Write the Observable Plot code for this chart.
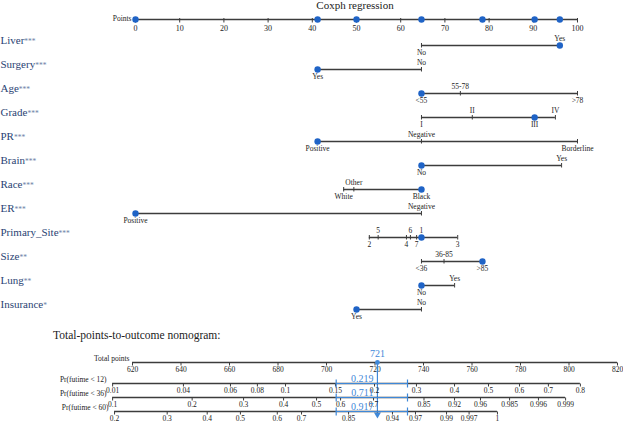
<!DOCTYPE html>
<html><head><meta charset="utf-8">
<script src="https://cdn.jsdelivr.net/npm/d3@7"></script>
<script src="https://cdn.jsdelivr.net/npm/@observablehq/plot@0.6"></script>
<style>
body{margin:0;background:#fff;}
#chart{position:relative;width:623px;height:421px;overflow:hidden;font-family:"Liberation Serif",serif;background:#fff;}
#chart svg{position:absolute;left:0;top:0;}
#title{position:absolute;left:0;width:710px;top:-1px;text-align:center;font-size:11px;line-height:12px;color:#222;}
#sub{position:absolute;left:53px;top:328px;font-size:11.5px;line-height:14px;color:#222;white-space:nowrap;}
</style></head><body>
<div id="chart"><div id="title">Coxph regression</div><div id="sub">Total-points-to-outcome nomogram:</div></div>
<script>
// ---------- data ----------
const pointTicks = [0,10,20,30,40,50,60,70,80,90,100];
const rows = ["Liver","Surgery","Age","Grade","PR","Brain","Race","ER","Primary_Site","Size","Lung","Insurance"];
const stars = ["***","***","***","***","***","***","***","***","***","**","**","*"];
// [row, level, points]
const levels = [
  ["Liver","No",64.7],["Liver","Yes",96],
  ["Surgery","Yes",41.2],["Surgery","No",64.7],
  ["Age","<55",64.7],["Age","55-78",73.5],["Age",">78",100],
  ["Grade","I",64.7],["Grade","II",76.2],["Grade","III",90.3],["Grade","IV",95],
  ["PR","Positive",41.2],["PR","Negative",64.7],["PR","Borderline",100],
  ["Brain","No",64.7],["Brain","Yes",96.4],
  ["Race","White",47.1],["Race","Other",49.4],["Race","Black",64.7],
  ["ER","Positive",0],["ER","Negative",64.7],
  ["Primary_Site","2",52.9],["Primary_Site","5",54.9],["Primary_Site","4",61.3],["Primary_Site","6",62.2],["Primary_Site","7",63.6],["Primary_Site","1",64.7],["Primary_Site","3",72.9],
  ["Size","<36",64.7],["Size","36-85",69.8],["Size",">85",78.5],
  ["Lung","No",64.7],["Lung","Yes",72.2],
  ["Insurance","Yes",50],["Insurance","No",64.7]
];
const labelsAbove = [["Liver","Yes"],["Surgery","No"],["Age","55-78"],["Grade","II"],["Grade","IV"],["PR","Negative"],["Brain","Yes"],["Race","Other"],["ER","Negative"],["Primary_Site","5"],["Primary_Site","6"],["Primary_Site","1"],["Size","36-85"],["Lung","Yes"],["Insurance","No"]];
const selected = [["Liver","Yes"],["Surgery","Yes"],["Age","<55"],["Grade","III"],["PR","Positive"],["Brain","No"],["Race","Black"],["ER","Positive"],["Primary_Site","1"],["Size",">85"],["Lung","No"],["Insurance","Yes"]];

const totalTicks = [620,640,660,680,700,720,740,760,780,800,820];
const probNames = ["Pr(futime < 12)","Pr(futime < 36)","Pr(futime < 60)"];
const pr12Labels = ["0.01","0.04","0.06","0.08","0.1","0.15","0.2","0.3","0.4","0.5","0.6","0.7","0.8"];
const pr12At     = [611.8,641,660.4,671.5,683.1,703.7,719.8,737.1,752.8,766.8,779.6,791.5,804.7];
const pr36Labels = ["0.1","0.2","0.3","0.4","0.5","0.6","0.7","0.85","0.92","0.96","0.985","0.996","0.999"];
const pr36At     = [611.8,644.6,665.8,682.3,695.9,705.8,719.4,740.2,752.8,763.5,775.5,787.4,798.6];
const pr60Labels = ["0.2","0.3","0.4","0.5","0.6","0.7","0.85","0.94","0.97","0.99","0.997","1"];
const pr60At     = [612.6,634.3,650.8,664.5,679.7,689.7,709.1,727.2,736.7,749.5,758.8,770.5];
const totalScore = 721;
const probEstimates = ["0.219","0.711","0.917"];
const ciLow = 704, ciHigh = 733.4;

// ---------- derived tables ----------
const key = (r,l) => r + "|" + l;
const aboveSet = new Set(labelsAbove.map(([r,l]) => key(r,l)));
const levelData = levels.map(([row,label,points]) => ({row,label,points,above: aboveSet.has(key(row,label))}));
const rowExt = d3.rollups(levelData, v => d3.extent(v, d => d.points), d => d.row).map(([row,[x1,x2]]) => ({row,x1,x2}));
const selData = selected.map(([r,l]) => levelData.find(d => d.row === r && d.label === l));
const selPoints = Array.from(new Set(selData.map(d => d.points)));
const probTicks = [[pr12Labels,pr12At],[pr36Labels,pr36At],[pr60Labels,pr60At]]
  .flatMap(([labs,at],k) => labs.map((label,i) => ({axis: probNames[k], label, at: at[i]})));
const probExt = probNames.map((name,k) => {
  const at = [pr12At,pr36At,pr60At][k];
  return {axis: name, x1: d3.min(at), x2: d3.max(at), est: probEstimates[k]};
});

// ---------- styles ----------
const W = 623, H = 421;
const FONT = "'Liberation Serif', 'Times New Roman', serif";
const LINE = "#3c3c3c", TXT = "#222", BLUE = "#1f63c6", OVER = "#3f88d8", LAB = "#2a4373";
const base = (o) => Plot.plot({width: W, height: H, margin: 0,
  style: {background: "none", fontFamily: FONT, overflow: "visible"}, ...o});
// vertical tick glyph: extends `up` px above and `down` px below the anchor (r = 1)
const tickSym = (up, down) => ({draw(ctx, size) { const r = Math.sqrt(size / Math.PI); ctx.moveTo(0, -up * r); ctx.lineTo(0, down * r); }});
const ticks = (data, o, up, down, stroke = LINE, sw = 1) =>
  Plot.dot(data, {...o, r: 1, symbol: tickSym(up, down), fill: "none", stroke, strokeWidth: sw});

// ---------- top points axis ----------
const plotA = base({
  x: {domain: [0,100], range: [135,577], axis: null},
  y: {type: "point", domain: ["Points"], range: [19,19], padding: 0, axis: null},
  marks: [
    Plot.ruleY(["Points"], {y: d => d, x1: d3.min(pointTicks), x2: d3.max(pointTicks), stroke: LINE, strokeWidth: 1.4}),
    ticks(pointTicks, {x: d => d, y: () => "Points"}, 1.5, 3),
    Plot.text(pointTicks, {x: d => d, y: () => "Points", text: d => String(d), dy: 8.5, fontSize: 8, fill: TXT}),
    Plot.text(["Points"], {x: () => d3.min(pointTicks), y: d => d, text: d => d, textAnchor: "end", dx: -4, dy: -1, fontSize: 7.5, fill: TXT}),
    Plot.dot(selPoints, {x: d => d, y: () => "Points", r: 3.2, fill: BLUE})
  ]
});

// ---------- predictor rows ----------
const plotB = base({
  x: {domain: [0,100], range: [135,577], axis: null},
  y: {type: "point", domain: rows, range: [41,313.3], padding: 0, axis: null},
  marks: [
    Plot.ruleY(rowExt, {y: "row", x1: "x1", x2: "x2", stroke: LINE, strokeWidth: 1.4}),
    ticks(levelData, {x: "points", y: "row"}, 2.5, 2),
    Plot.text(levelData.filter(d => d.above), {x: "points", y: "row", text: "label", dy: -6.5, fontSize: 7.5, fill: TXT}),
    Plot.text(levelData.filter(d => !d.above), {x: "points", y: "row", text: "label", dy: 7, fontSize: 7.5, fill: TXT}),
    Plot.dot(selData, {x: "points", y: "row", r: 3.2, fill: BLUE}),
    Plot.text(rows, {y: d => d, text: (d,i) => d + stars[i], frameAnchor: "left", textAnchor: "start", dy: -5.5, fontSize: 11, fill: LAB})
  ]
});

// ---------- total points axis + reading line ----------
const plotC = base({
  x: {domain: [620,820], range: [132,617], axis: null},
  y: {type: "point", domain: ["Total points", probNames[2]], range: [362,411.3], padding: 0, axis: null},
  marks: [
    Plot.ruleY(["Total points"], {y: d => d, x1: d3.min(totalTicks), x2: d3.max(totalTicks), stroke: LINE, strokeWidth: 1.4}),
    ticks(totalTicks, {x: d => d, y: () => "Total points"}, 0, 3),
    Plot.text(totalTicks, {x: d => d, y: () => "Total points", text: d => String(d), dy: 7.5, fontSize: 7.5, fill: TXT}),
    Plot.text(["Total points"], {x: () => d3.min(totalTicks), y: d => d, text: d => d, textAnchor: "end", dx: -3, dy: -4, fontSize: 7.5, fill: TXT}),
    Plot.ruleX([totalScore], {x: d => d, y1: () => "Total points", y2: () => probNames[2], insetBottom: -2, stroke: OVER, strokeWidth: 1.2}),
    Plot.dot([totalScore], {x: d => d, y: () => probNames[2], symbol: "triangle", rotate: 180, r: 2.6, dy: 3, fill: OVER}),
    Plot.dot([totalScore], {x: d => d, y: () => "Total points", r: 2.4, fill: OVER}),
    Plot.text([totalScore], {x: d => d, y: () => "Total points", text: d => String(d), dy: -9, fontSize: 10, fill: OVER})
  ]
});

// ---------- probability axes ----------
const plotD = base({
  x: {domain: [620,820], range: [132,617], axis: null},
  y: {type: "point", domain: probNames, range: [382,411.3], padding: 0, axis: null},
  marks: [
    Plot.ruleY(probExt, {y: "axis", x1: "x1", x2: "x2", stroke: LINE, strokeWidth: 1.4}),
    ticks(probTicks, {x: "at", y: "axis"}, 0, 3),
    Plot.text(probTicks, {x: "at", y: "axis", text: "label", dy: 7, fontSize: 7.5, fill: TXT}),
    Plot.text(probExt, {x: "x1", y: "axis", text: "axis", textAnchor: "end", dx: -6, dy: -4, fontSize: 7.5, fill: TXT}),
    Plot.ruleY(probExt, {y: "axis", x1: () => ciLow, x2: () => ciHigh, stroke: OVER, strokeWidth: 1.2}),
    ticks(probExt.flatMap(d => [{axis: d.axis, at: ciLow}, {axis: d.axis, at: ciHigh}]), {x: "at", y: "axis"}, 4, 4, OVER, 1.2),
    Plot.text(probExt, {x: () => totalScore, y: "axis", text: "est", textAnchor: "end", dx: -4, dy: -5, fontSize: 10, fill: OVER})
  ]
});

const chart = document.getElementById("chart");
[plotA, plotB, plotC, plotD].forEach(p => chart.appendChild(p));

// render significance stars smaller
const NS = "http://www.w3.org/2000/svg";
plotB.querySelectorAll("text").forEach(t => {
  const m = t.textContent.match(/^(.*?)(\*+)$/);
  if (m && t.children.length === 0) {
    t.textContent = m[1];
    const s = document.createElementNS(NS, "tspan");
    s.textContent = m[2];
    s.setAttribute("font-size", "7.5");
    s.setAttribute("fill", "#6d7fa6");
    t.appendChild(s);
  }
});
</script>
</body></html>
